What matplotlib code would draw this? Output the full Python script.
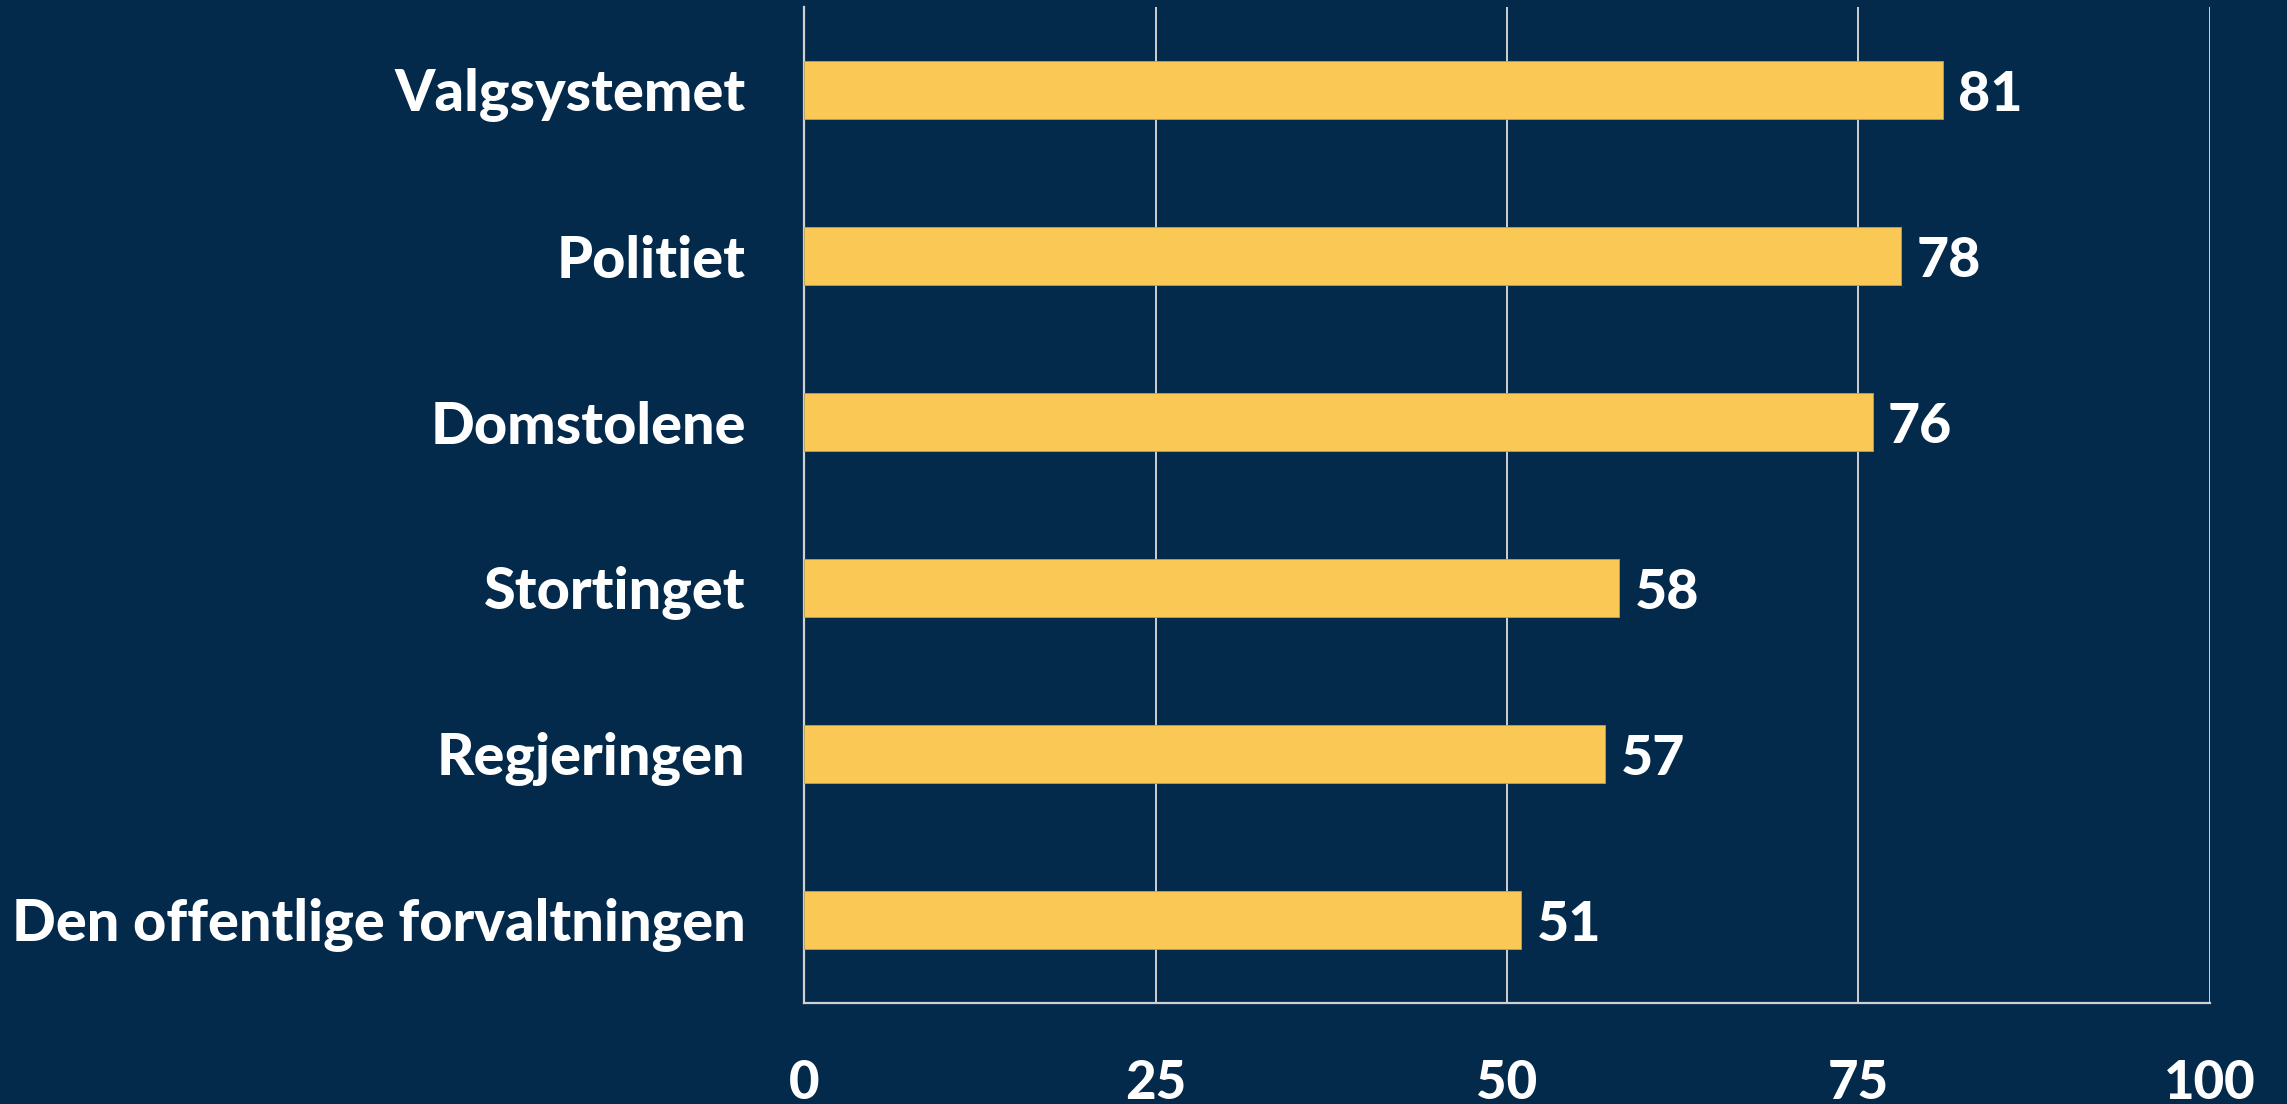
import matplotlib
matplotlib.use("Agg")
import matplotlib.pyplot as plt

# tillit til institusjoner (prosent)
categories = ["Valgsystemet", "Politiet", "Domstolene", "Stortinget",
              "Regjeringen", "Den offentlige forvaltningen"]
values = [81, 78, 76, 58, 57, 51]
xticks = [0, 25, 50, 75, 100]

bg = "#03294b"
bar_col = "#fac955"
grid_col = "#d0d0d0"

plt.rcParams["font.family"] = ["Lato", "DejaVu Sans"]
fw = "black"

fig = plt.figure(figsize=(22.87, 11.04), dpi=100, facecolor=bg)
ax = fig.add_axes([804 / 2287, 1 - 1003 / 1104, (2210 - 804) / 2287, (1003 - 7) / 1104])
ax.set_facecolor(bg)

y = list(range(len(categories)))
ax.barh(y, values, height=0.35, color=bar_col, edgecolor="#b8a060", linewidth=0.6, zorder=3)

for yi, v in zip(y, values):
    ax.text(v + 1.1, yi + 0.03, str(v), va="center", ha="left", color="white",
            fontsize=40, fontweight=fw, zorder=4)

ax.set_xlim(0, 100)
ax.set_ylim(len(categories) - 0.5, -0.5)
ax.set_xticks(xticks)
ax.set_yticks(y)
ax.set_yticklabels(categories, fontsize=41.5)
ax.xaxis.grid(True, color=grid_col, linewidth=1.4, zorder=0)
ax.tick_params(axis="both", length=0, colors="white")
ax.tick_params(axis="x", pad=40, labelsize=38)
ax.tick_params(axis="y", pad=42)
for lab in ax.get_xticklabels() + ax.get_yticklabels():
    lab.set_fontweight(fw)

for side in ["top", "right"]:
    ax.spines[side].set_visible(False)
for side in ["left", "bottom"]:
    ax.spines[side].set_color(grid_col)
    ax.spines[side].set_linewidth(1.6)

fig.savefig("out.png", dpi=100, facecolor=bg)
